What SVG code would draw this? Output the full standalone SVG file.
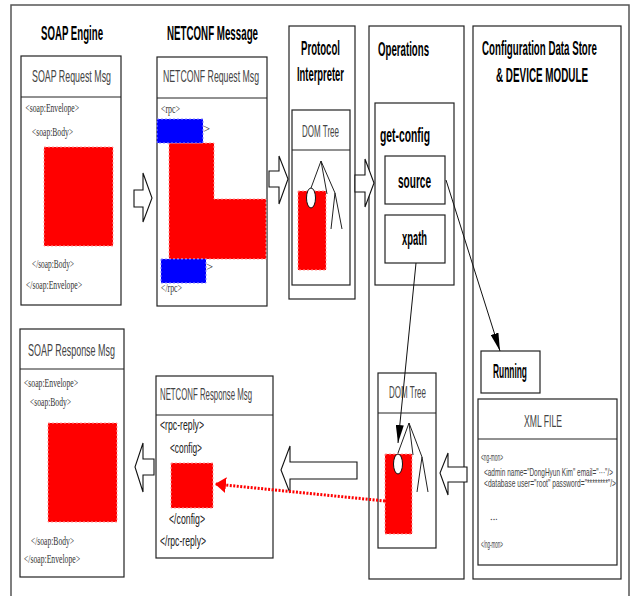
<svg xmlns="http://www.w3.org/2000/svg" width="635" height="596" viewBox="0 0 635 596">
<defs>
<style>
.box{fill:#fff;stroke:#222;stroke-width:1.2}
.ln{stroke:#222;stroke-width:1;fill:none}
.title{font-family:"Liberation Sans",Arial,sans-serif;font-weight:bold;font-size:21px;fill:#000}
.hdr{font-family:"Liberation Sans",Arial,sans-serif;font-size:16px;fill:#444}
.bold{font-family:"Liberation Sans",Arial,sans-serif;font-weight:bold;font-size:20px;fill:#000}
.ser{font-family:"Liberation Serif","Times New Roman",serif;font-size:12.5px;fill:#333}
.tag{font-family:"Liberation Sans",Arial,sans-serif;font-size:14px;fill:#222}
.xml{font-family:"Liberation Sans",Arial,sans-serif;font-size:10px;fill:#444}
.red{fill:#f00;stroke:#ff9a9a;stroke-width:1;stroke-dasharray:2 2}
.blue{fill:#00f;stroke:#8a8aff;stroke-width:1;stroke-dasharray:2 2}
.harrow{fill:#fff;stroke:#111;stroke-width:1.1}
.ell{fill:#fff;stroke:#111;stroke-width:1}
</style>
<marker id="ah" markerUnits="userSpaceOnUse" markerWidth="18" markerHeight="8" refX="18" refY="4" orient="auto">
<path d="M0,0 L18,4 L0,8 z" fill="#000"/>
</marker>
<marker id="rah" markerUnits="userSpaceOnUse" markerWidth="11" markerHeight="16" refX="11" refY="8" orient="auto">
<path d="M0,0 L11,8 L0,16 z" fill="#f00"/>
</marker>
</defs>
<rect x="0" y="0" width="635" height="596" fill="#fff"/>
<rect x="11" y="5" width="618" height="600" fill="none" stroke="#555" stroke-width="1.5"/>

<text class="title" x="41" y="40" textLength="62" lengthAdjust="spacingAndGlyphs">SOAP Engine</text>
<text class="title" transform="scale(0.4643,1)" x="359.7" y="40" textLength="196" lengthAdjust="spacingAndGlyphs">NETCONF Message</text>

<g id="soap-request">
<rect class="box" x="21" y="56" width="100" height="249"/>
<line class="ln" x1="21" y1="97" x2="121" y2="97"/>
<text class="hdr" transform="scale(0.5517,1)" x="58" y="82" textLength="143.2" lengthAdjust="spacingAndGlyphs">SOAP Request Msg</text>
<text class="ser" x="25.5" y="112" textLength="53.5" lengthAdjust="spacingAndGlyphs">&lt;soap:Envelope&gt;</text>
<text class="ser" x="32" y="136" textLength="41" lengthAdjust="spacingAndGlyphs">&lt;soap:Body&gt;</text>
<rect class="red" x="44" y="147" width="69" height="99"/>
<text class="ser" x="32" y="268" textLength="42" lengthAdjust="spacingAndGlyphs">&lt;/soap:Body&gt;</text>
<text class="ser" x="26" y="289" textLength="56" lengthAdjust="spacingAndGlyphs">&lt;/soap:Envelope&gt;</text>
</g>

<g id="netconf-request">
<rect class="box" x="157" y="57" width="110" height="249"/>
<line class="ln" x1="157" y1="98" x2="267" y2="98"/>
<text class="hdr" transform="scale(0.5455,1)" x="298.8" y="82" textLength="176" lengthAdjust="spacingAndGlyphs">NETCONF Request Msg</text>
<text class="ser" x="161" y="113" textLength="19" lengthAdjust="spacingAndGlyphs" font-size="11">&lt;rpc&gt;</text>
<text class="ser" x="203" y="133" font-size="11">&gt;</text>
<text class="ser" x="206" y="271" font-size="11">&gt;</text>
<path class="red" d="M169,143 H214 V199 H266 V259 H169 Z"/>
<rect class="blue" x="157" y="119" width="46" height="24"/>
<rect class="blue" x="161" y="259" width="45" height="24"/>
<text class="ser" x="161" y="292" textLength="21" lengthAdjust="spacingAndGlyphs" font-size="11">&lt;/rpc&gt;</text>
</g>

<g id="protocol-interpreter">
<rect class="box" x="289" y="26" width="66" height="273"/>
<text class="title" transform="scale(0.481,1)" x="625.8" y="55" textLength="81.1" lengthAdjust="spacingAndGlyphs" font-size="20">Protocol</text>
<text class="title" transform="scale(0.4796,1)" x="619.3" y="81" textLength="98" lengthAdjust="spacingAndGlyphs" font-size="20">Interpreter</text>
<rect class="box" x="292" y="110" width="58" height="175"/>
<line class="ln" x1="292" y1="150" x2="350" y2="150"/>
<text class="hdr" x="302" y="137" textLength="37" lengthAdjust="spacingAndGlyphs" font-size="15">DOM Tree</text>
<rect class="red" x="298" y="191" width="28" height="79"/>
<path class="ln" d="M311,188 L321,161 L327,194 M321,161 L335,193 L331,229 M335,193 L342,229"/>
<ellipse class="ell" cx="311" cy="198" rx="4.5" ry="10"/>
</g>

<g id="operations">
<rect class="box" x="369" y="26" width="95" height="553"/>
<text class="title" x="378" y="56" textLength="51" lengthAdjust="spacingAndGlyphs" font-size="18">Operations</text>
<rect class="box" x="375" y="103" width="79" height="182"/>
<text class="bold" x="380" y="142" textLength="50" lengthAdjust="spacingAndGlyphs" font-size="19">get-config</text>
<g id="source">
<rect class="box" x="385" y="156" width="60" height="48"/>
<text class="bold" x="398" y="188" textLength="33" lengthAdjust="spacingAndGlyphs">source</text>
</g>
<g id="xpath">
<rect class="box" x="385" y="215" width="60" height="48"/>
<text class="bold" x="402" y="245" textLength="25" lengthAdjust="spacingAndGlyphs">xpath</text>
</g>
<g id="dom-tree-ops">
<rect class="box" x="378" y="373" width="58" height="175"/>
<line class="ln" x1="378" y1="413" x2="436" y2="413"/>
<text class="hdr" x="389" y="398" textLength="37" lengthAdjust="spacingAndGlyphs" font-size="15">DOM Tree</text>
<rect class="red" x="385" y="454" width="27" height="80"/>
<path class="ln" d="M398,453 L409,423 L413,455 M409,423 L422,457 L417,492 M422,457 L428,492"/>
<ellipse class="ell" cx="398" cy="464" rx="4.5" ry="10"/>
</g>
</g>

<g id="config-store">
<rect class="box" x="473" y="26" width="148" height="553"/>
<text class="title" transform="scale(0.572,1)" x="842.7" y="55" textLength="201" lengthAdjust="spacingAndGlyphs" font-size="17">Configuration Data Store</text>
<text class="title" transform="scale(0.58,1)" x="855.2" y="82" textLength="158.7" lengthAdjust="spacingAndGlyphs" font-size="17">&amp; DEVICE MODULE</text>
<g id="running">
<rect class="box" x="481" y="351" width="59" height="42"/>
<text class="bold" x="493" y="378" textLength="34" lengthAdjust="spacingAndGlyphs">Running</text>
</g>
<g id="xml-file">
<rect class="box" x="478" y="399" width="139" height="166"/>
<line class="ln" x1="478" y1="439" x2="617" y2="439"/>
<text class="hdr" x="524" y="427" textLength="38" lengthAdjust="spacingAndGlyphs">XML FILE</text>
<text class="xml" x="481" y="461" textLength="22" lengthAdjust="spacingAndGlyphs">&lt;ng-mon&gt;</text>
<text class="xml" font-size="9" transform="scale(0.7256,1)" x="667" y="476.5" textLength="177.8" lengthAdjust="spacingAndGlyphs">&lt;admin name="DongHyun Kim" email="···"/&gt;</text>
<text class="xml" font-size="9" transform="scale(0.7422,1)" x="652.1" y="487.5" textLength="177.8" lengthAdjust="spacingAndGlyphs">&lt;database user="root" password="********"/&gt;</text>
<text class="xml" x="490" y="520">‥.</text>
<text class="xml" x="481" y="548" textLength="22" lengthAdjust="spacingAndGlyphs">&lt;/ng-mon&gt;</text>
</g>
</g>

<g id="soap-response">
<rect class="box" x="20" y="329" width="104" height="248"/>
<line class="ln" x1="20" y1="369" x2="124" y2="369"/>
<text class="hdr" x="28" y="356" textLength="87" lengthAdjust="spacingAndGlyphs">SOAP Response Msg</text>
<text class="ser" x="24" y="387" textLength="54" lengthAdjust="spacingAndGlyphs">&lt;soap:Envelope&gt;</text>
<text class="ser" x="30" y="406" textLength="41" lengthAdjust="spacingAndGlyphs">&lt;soap:Body&gt;</text>
<rect class="red" x="48" y="423" width="69" height="99"/>
<text class="ser" x="31" y="545" textLength="43" lengthAdjust="spacingAndGlyphs">&lt;/soap:Body&gt;</text>
<text class="ser" x="24" y="563" textLength="56" lengthAdjust="spacingAndGlyphs">&lt;/soap:Envelope&gt;</text>
</g>

<g id="netconf-response">
<rect class="box" x="156" y="376" width="117" height="182"/>
<line class="ln" x1="156" y1="415" x2="273" y2="415"/>
<text class="hdr" x="160" y="400" textLength="92" lengthAdjust="spacingAndGlyphs">NETCONF Response Msg</text>
<text class="tag" x="160" y="430" textLength="44" lengthAdjust="spacingAndGlyphs">&lt;rpc-reply&gt;</text>
<text class="tag" x="170" y="453" textLength="32" lengthAdjust="spacingAndGlyphs">&lt;config&gt;</text>
<rect class="red" x="171" y="463" width="42" height="45"/>
<text class="tag" x="169" y="524" textLength="36" lengthAdjust="spacingAndGlyphs">&lt;/config&gt;</text>
<text class="tag" x="160" y="546" textLength="46" lengthAdjust="spacingAndGlyphs">&lt;/rpc-reply&gt;</text>
</g>

<g id="connectors">
<polygon class="harrow" points="134,190 143,190 143,173 152,198 143,222 143,207 134,207"/>
<polygon class="harrow" points="269,171 279,171 279,156 288,179 279,204 279,187 269,187"/>
<polygon class="harrow" points="355,175 365,175 365,159 374,183 365,207 365,192 355,192"/>
<polygon class="harrow" points="357,462 290,462 290,446 281,470 290,493 290,479 357,479"/>
<polygon class="harrow" points="467,467 448,467 448,453 440,473 448,495 448,482 467,482"/>
<polygon class="harrow" points="154,459 143,459 143,443 135,467 143,492 143,475 154,475"/>
<line x1="446" y1="180" x2="500" y2="351" stroke="#111" stroke-width="1" marker-end="url(#ah)"/>
<line x1="416" y1="263" x2="398" y2="443" stroke="#111" stroke-width="1" marker-end="url(#ah)"/>
<line x1="385" y1="501" x2="215" y2="484" stroke="#f00" stroke-width="3" stroke-dasharray="2 1.5" marker-end="url(#rah)"/>
</g>
</svg>
